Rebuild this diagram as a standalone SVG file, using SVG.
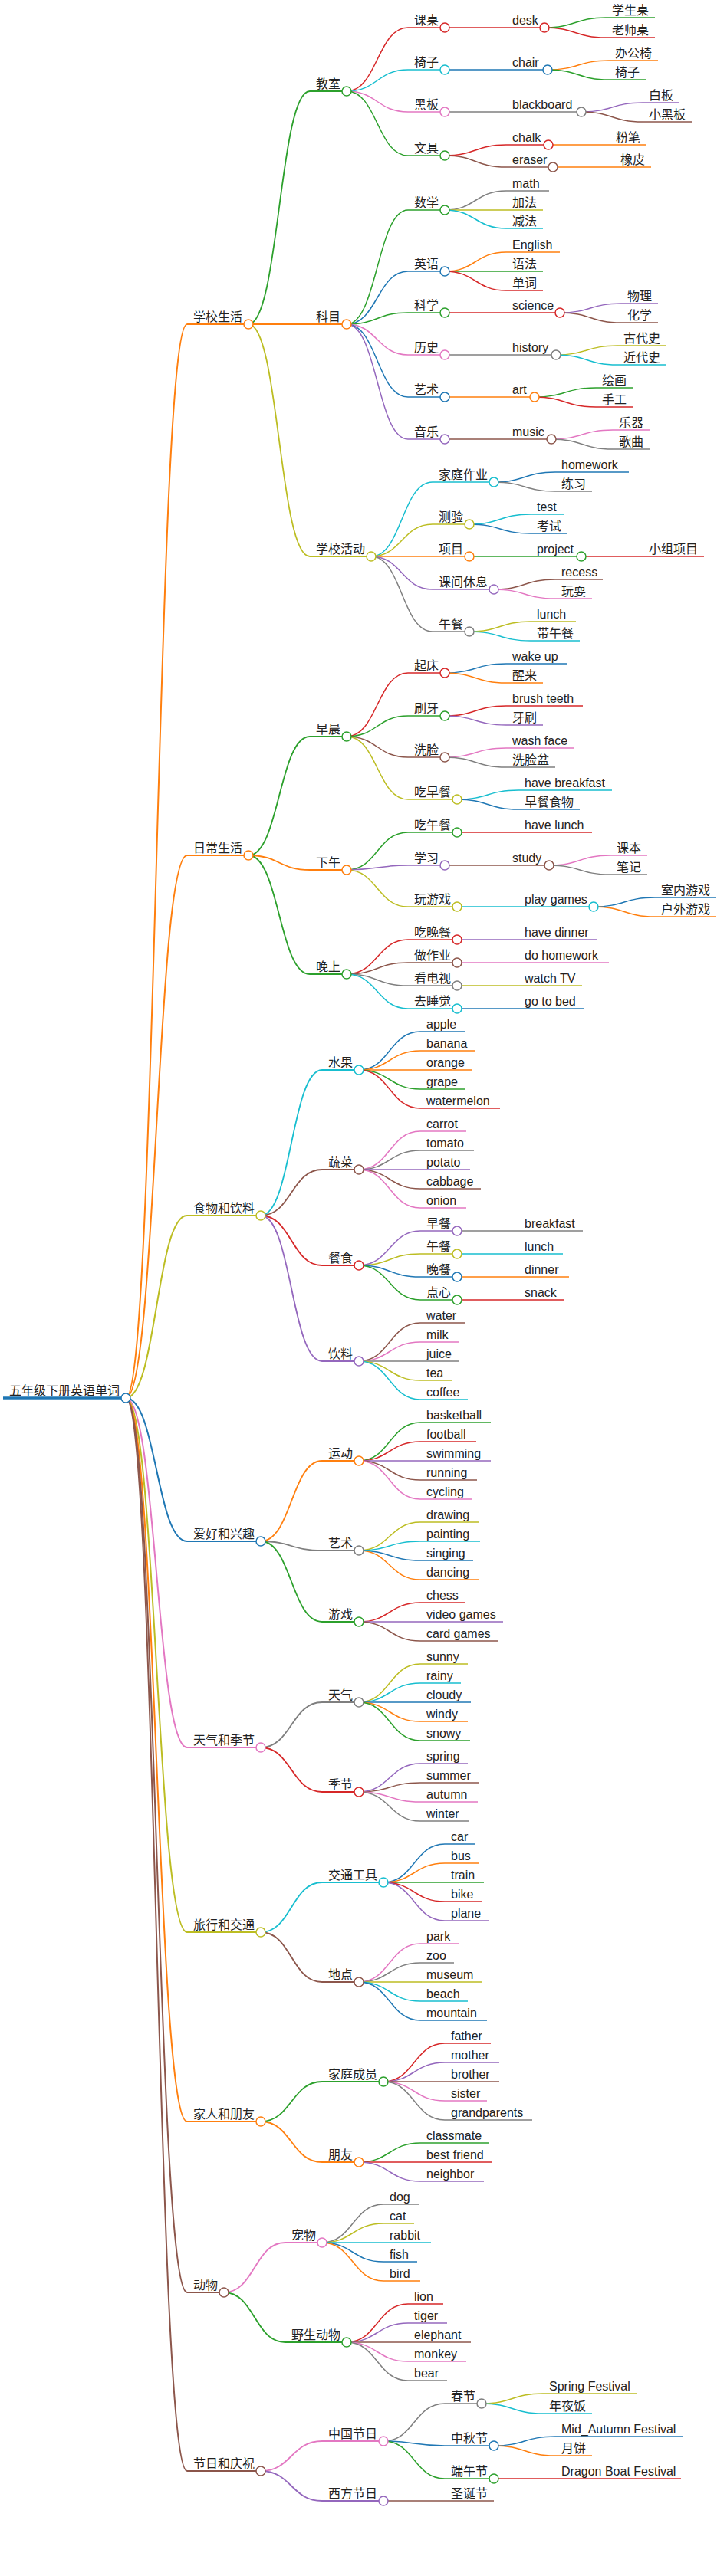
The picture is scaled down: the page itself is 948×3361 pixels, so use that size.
<svg xmlns="http://www.w3.org/2000/svg" width="948" height="3361" viewBox="0 0 948 3361">
<style>
.B{stroke:#1f77b4}.O{stroke:#ff7f0e}.G{stroke:#2ca02c}.R{stroke:#d62728}.P{stroke:#9467bd}.N{stroke:#8c564b}.K{stroke:#e377c2}.Y{stroke:#7f7f7f}.L{stroke:#bcbd22}.C{stroke:#17becf}
.d0{stroke-width:3.5}.d1{stroke-width:2}.d2{stroke-width:1.8}.d3{stroke-width:1.5}.d4{stroke-width:1.5}.d5{stroke-width:1.5}
path{fill:none}
circle{fill:#fff;stroke-width:1.5}
text{stroke:none;fill:#222;font-family:"Liberation Sans","Noto Sans CJK SC",sans-serif;font-size:16px}
</style>
<rect width="948" height="3361" fill="#fff"/>
<g id="connectors">
<path class="O d1" d="M164,1824 C204,1824 204,423 244,423"/>
<path class="O d1" d="M164,1824 C204,1824 204,1116 244,1116"/>
<path class="L d1" d="M164,1824 C204,1824 204,1586 244,1586"/>
<path class="B d1" d="M164,1824 C204,1824 204,2011 244,2011"/>
<path class="K d1" d="M164,1824 C204,1824 204,2280 244,2280"/>
<path class="L d1" d="M164,1824 C204,1824 204,2521 244,2521"/>
<path class="O d1" d="M164,1824 C204,1824 204,2768 244,2768"/>
<path class="N d1" d="M164,1824 C204,1824 204,2991 244,2991"/>
<path class="N d1" d="M164,1824 C204,1824 204,3224 244,3224"/>
<path class="G d2" d="M324,423 C364,423 364,119 404,119"/>
<path class="O d2" d="M324,423 L404,423"/>
<path class="L d2" d="M324,423 C364,423 364,726 404,726"/>
<path class="G d2" d="M324,1116 C364,1116 364,961 404,961"/>
<path class="O d2" d="M324,1116 C364,1116 364,1135 404,1135"/>
<path class="G d2" d="M324,1116 C364,1116 364,1271 404,1271"/>
<path class="C d2" d="M340,1586 C380,1586 380,1396 420,1396"/>
<path class="N d2" d="M340,1586 C380,1586 380,1526 420,1526"/>
<path class="R d2" d="M340,1586 C380,1586 380,1651 420,1651"/>
<path class="P d2" d="M340,1586 C380,1586 380,1776 420,1776"/>
<path class="O d2" d="M340,2011 C380,2011 380,1906 420,1906"/>
<path class="Y d2" d="M340,2011 C380,2011 380,2023 420,2023"/>
<path class="G d2" d="M340,2011 C380,2011 380,2116 420,2116"/>
<path class="Y d2" d="M340,2280 C380,2280 380,2221 420,2221"/>
<path class="R d2" d="M340,2280 C380,2280 380,2338 420,2338"/>
<path class="C d2" d="M340,2521 C380,2521 380,2456 420,2456"/>
<path class="N d2" d="M340,2521 C380,2521 380,2586 420,2586"/>
<path class="G d2" d="M340,2768 C380,2768 380,2716 420,2716"/>
<path class="O d2" d="M340,2768 C380,2768 380,2821 420,2821"/>
<path class="K d2" d="M292,2991 C332,2991 332,2926 372,2926"/>
<path class="G d2" d="M292,2991 C332,2991 332,3056 372,3056"/>
<path class="K d2" d="M340,3224 C380,3224 380,3185 420,3185"/>
<path class="P d2" d="M340,3224 C380,3224 380,3263 420,3263"/>
<path class="R d3" d="M452,119 C492,119 492,36 532,36"/>
<path class="C d3" d="M452,119 C492,119 492,91 532,91"/>
<path class="K d3" d="M452,119 C492,119 492,146 532,146"/>
<path class="G d3" d="M452,119 C492,119 492,203 532,203"/>
<path class="G d3" d="M452,423 C492,423 492,274 532,274"/>
<path class="B d3" d="M452,423 C492,423 492,354 532,354"/>
<path class="G d3" d="M452,423 C492,423 492,408 532,408"/>
<path class="K d3" d="M452,423 C492,423 492,463 532,463"/>
<path class="B d3" d="M452,423 C492,423 492,518 532,518"/>
<path class="P d3" d="M452,423 C492,423 492,573 532,573"/>
<path class="C d3" d="M484,726 C524,726 524,629 564,629"/>
<path class="L d3" d="M484,726 C524,726 524,684 564,684"/>
<path class="O d3" d="M484,726 L564,726"/>
<path class="P d3" d="M484,726 C524,726 524,769 564,769"/>
<path class="Y d3" d="M484,726 C524,726 524,824 564,824"/>
<path class="R d3" d="M452,961 C492,961 492,878 532,878"/>
<path class="G d3" d="M452,961 C492,961 492,934 532,934"/>
<path class="N d3" d="M452,961 C492,961 492,988 532,988"/>
<path class="L d3" d="M452,961 C492,961 492,1043 532,1043"/>
<path class="G d3" d="M452,1135 C492,1135 492,1086 532,1086"/>
<path class="P d3" d="M452,1135 C492,1135 492,1129 532,1129"/>
<path class="L d3" d="M452,1135 C492,1135 492,1183 532,1183"/>
<path class="R d3" d="M452,1271 C492,1271 492,1226 532,1226"/>
<path class="N d3" d="M452,1271 C492,1271 492,1256 532,1256"/>
<path class="Y d3" d="M452,1271 C492,1271 492,1286 532,1286"/>
<path class="C d3" d="M452,1271 C492,1271 492,1316 532,1316"/>
<path class="B d3" d="M468,1396 C508,1396 508,1346 548,1346"/>
<path class="O d3" d="M468,1396 C508,1396 508,1371 548,1371"/>
<path class="O d3" d="M468,1396 L548,1396"/>
<path class="G d3" d="M468,1396 C508,1396 508,1421 548,1421"/>
<path class="R d3" d="M468,1396 C508,1396 508,1446 548,1446"/>
<path class="K d3" d="M468,1526 C508,1526 508,1476 548,1476"/>
<path class="Y d3" d="M468,1526 C508,1526 508,1501 548,1501"/>
<path class="P d3" d="M468,1526 L548,1526"/>
<path class="N d3" d="M468,1526 C508,1526 508,1551 548,1551"/>
<path class="K d3" d="M468,1526 C508,1526 508,1576 548,1576"/>
<path class="P d3" d="M468,1651 C508,1651 508,1606 548,1606"/>
<path class="L d3" d="M468,1651 C508,1651 508,1636 548,1636"/>
<path class="B d3" d="M468,1651 C508,1651 508,1666 548,1666"/>
<path class="G d3" d="M468,1651 C508,1651 508,1696 548,1696"/>
<path class="N d3" d="M468,1776 C508,1776 508,1726 548,1726"/>
<path class="K d3" d="M468,1776 C508,1776 508,1751 548,1751"/>
<path class="Y d3" d="M468,1776 L548,1776"/>
<path class="L d3" d="M468,1776 C508,1776 508,1801 548,1801"/>
<path class="C d3" d="M468,1776 C508,1776 508,1826 548,1826"/>
<path class="G d3" d="M468,1906 C508,1906 508,1856 548,1856"/>
<path class="R d3" d="M468,1906 C508,1906 508,1881 548,1881"/>
<path class="P d3" d="M468,1906 L548,1906"/>
<path class="N d3" d="M468,1906 C508,1906 508,1931 548,1931"/>
<path class="K d3" d="M468,1906 C508,1906 508,1956 548,1956"/>
<path class="L d3" d="M468,2023 C508,2023 508,1986 548,1986"/>
<path class="C d3" d="M468,2023 C508,2023 508,2011 548,2011"/>
<path class="B d3" d="M468,2023 C508,2023 508,2036 548,2036"/>
<path class="O d3" d="M468,2023 C508,2023 508,2061 548,2061"/>
<path class="R d3" d="M468,2116 C508,2116 508,2091 548,2091"/>
<path class="P d3" d="M468,2116 L548,2116"/>
<path class="N d3" d="M468,2116 C508,2116 508,2141 548,2141"/>
<path class="L d3" d="M468,2221 C508,2221 508,2171 548,2171"/>
<path class="C d3" d="M468,2221 C508,2221 508,2196 548,2196"/>
<path class="B d3" d="M468,2221 L548,2221"/>
<path class="O d3" d="M468,2221 C508,2221 508,2246 548,2246"/>
<path class="G d3" d="M468,2221 C508,2221 508,2271 548,2271"/>
<path class="P d3" d="M468,2338 C508,2338 508,2301 548,2301"/>
<path class="N d3" d="M468,2338 C508,2338 508,2326 548,2326"/>
<path class="K d3" d="M468,2338 C508,2338 508,2351 548,2351"/>
<path class="Y d3" d="M468,2338 C508,2338 508,2376 548,2376"/>
<path class="B d3" d="M500,2456 C540,2456 540,2406 580,2406"/>
<path class="O d3" d="M500,2456 C540,2456 540,2431 580,2431"/>
<path class="G d3" d="M500,2456 L580,2456"/>
<path class="R d3" d="M500,2456 C540,2456 540,2481 580,2481"/>
<path class="P d3" d="M500,2456 C540,2456 540,2506 580,2506"/>
<path class="K d3" d="M468,2586 C508,2586 508,2536 548,2536"/>
<path class="Y d3" d="M468,2586 C508,2586 508,2561 548,2561"/>
<path class="L d3" d="M468,2586 L548,2586"/>
<path class="C d3" d="M468,2586 C508,2586 508,2611 548,2611"/>
<path class="B d3" d="M468,2586 C508,2586 508,2636 548,2636"/>
<path class="R d3" d="M500,2716 C540,2716 540,2666 580,2666"/>
<path class="P d3" d="M500,2716 C540,2716 540,2691 580,2691"/>
<path class="N d3" d="M500,2716 L580,2716"/>
<path class="K d3" d="M500,2716 C540,2716 540,2741 580,2741"/>
<path class="Y d3" d="M500,2716 C540,2716 540,2766 580,2766"/>
<path class="G d3" d="M468,2821 C508,2821 508,2796 548,2796"/>
<path class="R d3" d="M468,2821 L548,2821"/>
<path class="P d3" d="M468,2821 C508,2821 508,2846 548,2846"/>
<path class="Y d3" d="M420,2926 C460,2926 460,2876 500,2876"/>
<path class="L d3" d="M420,2926 C460,2926 460,2901 500,2901"/>
<path class="C d3" d="M420,2926 L500,2926"/>
<path class="B d3" d="M420,2926 C460,2926 460,2951 500,2951"/>
<path class="O d3" d="M420,2926 C460,2926 460,2976 500,2976"/>
<path class="R d3" d="M452,3056 C492,3056 492,3006 532,3006"/>
<path class="P d3" d="M452,3056 C492,3056 492,3031 532,3031"/>
<path class="N d3" d="M452,3056 L532,3056"/>
<path class="K d3" d="M452,3056 C492,3056 492,3081 532,3081"/>
<path class="Y d3" d="M452,3056 C492,3056 492,3106 532,3106"/>
<path class="Y d3" d="M500,3185 C540,3185 540,3136 580,3136"/>
<path class="B d3" d="M500,3185 C540,3185 540,3191 580,3191"/>
<path class="G d3" d="M500,3185 C540,3185 540,3234 580,3234"/>
<path class="N d3" d="M500,3263 L580,3263"/>
<path class="R d4" d="M580,36 L660,36"/>
<path class="B d4" d="M580,91 L660,91"/>
<path class="Y d4" d="M580,146 L660,146"/>
<path class="R d4" d="M580,203 C620,203 620,189 660,189"/>
<path class="N d4" d="M580,203 C620,203 620,218 660,218"/>
<path class="Y d4" d="M580,274 C620,274 620,249 660,249"/>
<path class="L d4" d="M580,274 L660,274"/>
<path class="C d4" d="M580,274 C620,274 620,298 660,298"/>
<path class="O d4" d="M580,354 C620,354 620,329 660,329"/>
<path class="G d4" d="M580,354 L660,354"/>
<path class="R d4" d="M580,354 C620,354 620,379 660,379"/>
<path class="R d4" d="M580,408 L660,408"/>
<path class="Y d4" d="M580,463 L660,463"/>
<path class="O d4" d="M580,518 L660,518"/>
<path class="N d4" d="M580,573 L660,573"/>
<path class="B d4" d="M644,629 C684,629 684,616 724,616"/>
<path class="Y d4" d="M644,629 C684,629 684,641 724,641"/>
<path class="C d4" d="M612,684 C652,684 652,671 692,671"/>
<path class="B d4" d="M612,684 C652,684 652,696 692,696"/>
<path class="G d4" d="M612,726 L692,726"/>
<path class="N d4" d="M644,769 C684,769 684,756 724,756"/>
<path class="K d4" d="M644,769 C684,769 684,781 724,781"/>
<path class="L d4" d="M612,824 C652,824 652,811 692,811"/>
<path class="C d4" d="M612,824 C652,824 652,836 692,836"/>
<path class="B d4" d="M580,878 C620,878 620,866 660,866"/>
<path class="O d4" d="M580,878 C620,878 620,891 660,891"/>
<path class="R d4" d="M580,934 C620,934 620,921 660,921"/>
<path class="P d4" d="M580,934 C620,934 620,946 660,946"/>
<path class="K d4" d="M580,988 C620,988 620,976 660,976"/>
<path class="Y d4" d="M580,988 C620,988 620,1001 660,1001"/>
<path class="C d4" d="M596,1043 C636,1043 636,1031 676,1031"/>
<path class="B d4" d="M596,1043 C636,1043 636,1056 676,1056"/>
<path class="R d4" d="M596,1086 L676,1086"/>
<path class="N d4" d="M580,1129 L660,1129"/>
<path class="C d4" d="M596,1183 L676,1183"/>
<path class="P d4" d="M596,1226 L676,1226"/>
<path class="K d4" d="M596,1256 L676,1256"/>
<path class="L d4" d="M596,1286 L676,1286"/>
<path class="B d4" d="M596,1316 L676,1316"/>
<path class="Y d4" d="M596,1606 L676,1606"/>
<path class="C d4" d="M596,1636 L676,1636"/>
<path class="O d4" d="M596,1666 L676,1666"/>
<path class="R d4" d="M596,1696 L676,1696"/>
<path class="L d4" d="M628,3136 C668,3136 668,3123 708,3123"/>
<path class="C d4" d="M628,3136 C668,3136 668,3149 708,3149"/>
<path class="B d4" d="M644,3191 C684,3191 684,3179 724,3179"/>
<path class="O d4" d="M644,3191 C684,3191 684,3204 724,3204"/>
<path class="R d4" d="M644,3234 L724,3234"/>
<path class="G d5" d="M710,36 C750,36 750,23 790,23"/>
<path class="R d5" d="M710,36 C750,36 750,49 790,49"/>
<path class="O d5" d="M714,91 C754,91 754,79 794,79"/>
<path class="G d5" d="M714,91 C754,91 754,104 794,104"/>
<path class="P d5" d="M758,146 C798,146 798,134 838,134"/>
<path class="N d5" d="M758,146 C798,146 798,159 838,159"/>
<path class="O d5" d="M715,189 L795,189"/>
<path class="O d5" d="M721,218 L801,218"/>
<path class="P d5" d="M730,408 C770,408 770,396 810,396"/>
<path class="N d5" d="M730,408 C770,408 770,421 810,421"/>
<path class="L d5" d="M725,463 C765,463 765,451 805,451"/>
<path class="C d5" d="M725,463 C765,463 765,476 805,476"/>
<path class="G d5" d="M697,518 C737,518 737,506 777,506"/>
<path class="R d5" d="M697,518 C737,518 737,531 777,531"/>
<path class="K d5" d="M719,573 C759,573 759,561 799,561"/>
<path class="Y d5" d="M719,573 C759,573 759,586 799,586"/>
<path class="R d5" d="M758,726 L838,726"/>
<path class="K d5" d="M716,1129 C756,1129 756,1116 796,1116"/>
<path class="Y d5" d="M716,1129 C756,1129 756,1141 796,1141"/>
<path class="B d5" d="M774,1183 C814,1183 814,1171 854,1171"/>
<path class="O d5" d="M774,1183 C814,1183 814,1196 854,1196"/>
</g>
<g id="n0" class="B d0"><line x1="4" y1="1824" x2="164" y2="1824"/><circle cx="164" cy="1824" r="6"/><text x="12" y="1820">五年级下册英语单词</text></g>
<g id="n1" class="O d1"><line x1="244" y1="423" x2="324" y2="423"/><circle cx="324" cy="423" r="6"/><text x="252" y="419">学校生活</text></g>
<g id="n2" class="O d1"><line x1="244" y1="1116" x2="324" y2="1116"/><circle cx="324" cy="1116" r="6"/><text x="252" y="1112">日常生活</text></g>
<g id="n3" class="L d1"><line x1="244" y1="1586" x2="340" y2="1586"/><circle cx="340" cy="1586" r="6"/><text x="252" y="1582">食物和饮料</text></g>
<g id="n4" class="B d1"><line x1="244" y1="2011" x2="340" y2="2011"/><circle cx="340" cy="2011" r="6"/><text x="252" y="2007">爱好和兴趣</text></g>
<g id="n5" class="K d1"><line x1="244" y1="2280" x2="340" y2="2280"/><circle cx="340" cy="2280" r="6"/><text x="252" y="2276">天气和季节</text></g>
<g id="n6" class="L d1"><line x1="244" y1="2521" x2="340" y2="2521"/><circle cx="340" cy="2521" r="6"/><text x="252" y="2517">旅行和交通</text></g>
<g id="n7" class="O d1"><line x1="244" y1="2768" x2="340" y2="2768"/><circle cx="340" cy="2768" r="6"/><text x="252" y="2764">家人和朋友</text></g>
<g id="n8" class="N d1"><line x1="244" y1="2991" x2="292" y2="2991"/><circle cx="292" cy="2991" r="6"/><text x="252" y="2987">动物</text></g>
<g id="n9" class="N d1"><line x1="244" y1="3224" x2="340" y2="3224"/><circle cx="340" cy="3224" r="6"/><text x="252" y="3220">节日和庆祝</text></g>
<g id="n1-1" class="G d2"><line x1="404" y1="119" x2="452" y2="119"/><circle cx="452" cy="119" r="6"/><text x="412" y="115">教室</text></g>
<g id="n1-2" class="O d2"><line x1="404" y1="423" x2="452" y2="423"/><circle cx="452" cy="423" r="6"/><text x="412" y="419">科目</text></g>
<g id="n1-3" class="L d2"><line x1="404" y1="726" x2="484" y2="726"/><circle cx="484" cy="726" r="6"/><text x="412" y="722">学校活动</text></g>
<g id="n2-1" class="G d2"><line x1="404" y1="961" x2="452" y2="961"/><circle cx="452" cy="961" r="6"/><text x="412" y="957">早晨</text></g>
<g id="n2-2" class="O d2"><line x1="404" y1="1135" x2="452" y2="1135"/><circle cx="452" cy="1135" r="6"/><text x="412" y="1131">下午</text></g>
<g id="n2-3" class="G d2"><line x1="404" y1="1271" x2="452" y2="1271"/><circle cx="452" cy="1271" r="6"/><text x="412" y="1267">晚上</text></g>
<g id="n3-1" class="C d2"><line x1="420" y1="1396" x2="468" y2="1396"/><circle cx="468" cy="1396" r="6"/><text x="428" y="1392">水果</text></g>
<g id="n3-2" class="N d2"><line x1="420" y1="1526" x2="468" y2="1526"/><circle cx="468" cy="1526" r="6"/><text x="428" y="1522">蔬菜</text></g>
<g id="n3-3" class="R d2"><line x1="420" y1="1651" x2="468" y2="1651"/><circle cx="468" cy="1651" r="6"/><text x="428" y="1647">餐食</text></g>
<g id="n3-4" class="P d2"><line x1="420" y1="1776" x2="468" y2="1776"/><circle cx="468" cy="1776" r="6"/><text x="428" y="1772">饮料</text></g>
<g id="n4-1" class="O d2"><line x1="420" y1="1906" x2="468" y2="1906"/><circle cx="468" cy="1906" r="6"/><text x="428" y="1902">运动</text></g>
<g id="n4-2" class="Y d2"><line x1="420" y1="2023" x2="468" y2="2023"/><circle cx="468" cy="2023" r="6"/><text x="428" y="2019">艺术</text></g>
<g id="n4-3" class="G d2"><line x1="420" y1="2116" x2="468" y2="2116"/><circle cx="468" cy="2116" r="6"/><text x="428" y="2112">游戏</text></g>
<g id="n5-1" class="Y d2"><line x1="420" y1="2221" x2="468" y2="2221"/><circle cx="468" cy="2221" r="6"/><text x="428" y="2217">天气</text></g>
<g id="n5-2" class="R d2"><line x1="420" y1="2338" x2="468" y2="2338"/><circle cx="468" cy="2338" r="6"/><text x="428" y="2334">季节</text></g>
<g id="n6-1" class="C d2"><line x1="420" y1="2456" x2="500" y2="2456"/><circle cx="500" cy="2456" r="6"/><text x="428" y="2452">交通工具</text></g>
<g id="n6-2" class="N d2"><line x1="420" y1="2586" x2="468" y2="2586"/><circle cx="468" cy="2586" r="6"/><text x="428" y="2582">地点</text></g>
<g id="n7-1" class="G d2"><line x1="420" y1="2716" x2="500" y2="2716"/><circle cx="500" cy="2716" r="6"/><text x="428" y="2712">家庭成员</text></g>
<g id="n7-2" class="O d2"><line x1="420" y1="2821" x2="468" y2="2821"/><circle cx="468" cy="2821" r="6"/><text x="428" y="2817">朋友</text></g>
<g id="n8-1" class="K d2"><line x1="372" y1="2926" x2="420" y2="2926"/><circle cx="420" cy="2926" r="6"/><text x="380" y="2922">宠物</text></g>
<g id="n8-2" class="G d2"><line x1="372" y1="3056" x2="452" y2="3056"/><circle cx="452" cy="3056" r="6"/><text x="380" y="3052">野生动物</text></g>
<g id="n9-1" class="K d2"><line x1="420" y1="3185" x2="500" y2="3185"/><circle cx="500" cy="3185" r="6"/><text x="428" y="3181">中国节日</text></g>
<g id="n9-2" class="P d2"><line x1="420" y1="3263" x2="500" y2="3263"/><circle cx="500" cy="3263" r="6"/><text x="428" y="3259">西方节日</text></g>
<g id="n1-1-1" class="R d3"><line x1="532" y1="36" x2="580" y2="36"/><circle cx="580" cy="36" r="6"/><text x="540" y="32">课桌</text></g>
<g id="n1-1-2" class="C d3"><line x1="532" y1="91" x2="580" y2="91"/><circle cx="580" cy="91" r="6"/><text x="540" y="87">椅子</text></g>
<g id="n1-1-3" class="K d3"><line x1="532" y1="146" x2="580" y2="146"/><circle cx="580" cy="146" r="6"/><text x="540" y="142">黑板</text></g>
<g id="n1-1-4" class="G d3"><line x1="532" y1="203" x2="580" y2="203"/><circle cx="580" cy="203" r="6"/><text x="540" y="199">文具</text></g>
<g id="n1-2-1" class="G d3"><line x1="532" y1="274" x2="580" y2="274"/><circle cx="580" cy="274" r="6"/><text x="540" y="270">数学</text></g>
<g id="n1-2-2" class="B d3"><line x1="532" y1="354" x2="580" y2="354"/><circle cx="580" cy="354" r="6"/><text x="540" y="350">英语</text></g>
<g id="n1-2-3" class="G d3"><line x1="532" y1="408" x2="580" y2="408"/><circle cx="580" cy="408" r="6"/><text x="540" y="404">科学</text></g>
<g id="n1-2-4" class="K d3"><line x1="532" y1="463" x2="580" y2="463"/><circle cx="580" cy="463" r="6"/><text x="540" y="459">历史</text></g>
<g id="n1-2-5" class="B d3"><line x1="532" y1="518" x2="580" y2="518"/><circle cx="580" cy="518" r="6"/><text x="540" y="514">艺术</text></g>
<g id="n1-2-6" class="P d3"><line x1="532" y1="573" x2="580" y2="573"/><circle cx="580" cy="573" r="6"/><text x="540" y="569">音乐</text></g>
<g id="n1-3-1" class="C d3"><line x1="564" y1="629" x2="644" y2="629"/><circle cx="644" cy="629" r="6"/><text x="572" y="625">家庭作业</text></g>
<g id="n1-3-2" class="L d3"><line x1="564" y1="684" x2="612" y2="684"/><circle cx="612" cy="684" r="6"/><text x="572" y="680">测验</text></g>
<g id="n1-3-3" class="O d3"><line x1="564" y1="726" x2="612" y2="726"/><circle cx="612" cy="726" r="6"/><text x="572" y="722">项目</text></g>
<g id="n1-3-4" class="P d3"><line x1="564" y1="769" x2="644" y2="769"/><circle cx="644" cy="769" r="6"/><text x="572" y="765">课间休息</text></g>
<g id="n1-3-5" class="Y d3"><line x1="564" y1="824" x2="612" y2="824"/><circle cx="612" cy="824" r="6"/><text x="572" y="820">午餐</text></g>
<g id="n2-1-1" class="R d3"><line x1="532" y1="878" x2="580" y2="878"/><circle cx="580" cy="878" r="6"/><text x="540" y="874">起床</text></g>
<g id="n2-1-2" class="G d3"><line x1="532" y1="934" x2="580" y2="934"/><circle cx="580" cy="934" r="6"/><text x="540" y="930">刷牙</text></g>
<g id="n2-1-3" class="N d3"><line x1="532" y1="988" x2="580" y2="988"/><circle cx="580" cy="988" r="6"/><text x="540" y="984">洗脸</text></g>
<g id="n2-1-4" class="L d3"><line x1="532" y1="1043" x2="596" y2="1043"/><circle cx="596" cy="1043" r="6"/><text x="540" y="1039">吃早餐</text></g>
<g id="n2-2-1" class="G d3"><line x1="532" y1="1086" x2="596" y2="1086"/><circle cx="596" cy="1086" r="6"/><text x="540" y="1082">吃午餐</text></g>
<g id="n2-2-2" class="P d3"><line x1="532" y1="1129" x2="580" y2="1129"/><circle cx="580" cy="1129" r="6"/><text x="540" y="1125">学习</text></g>
<g id="n2-2-3" class="L d3"><line x1="532" y1="1183" x2="596" y2="1183"/><circle cx="596" cy="1183" r="6"/><text x="540" y="1179">玩游戏</text></g>
<g id="n2-3-1" class="R d3"><line x1="532" y1="1226" x2="596" y2="1226"/><circle cx="596" cy="1226" r="6"/><text x="540" y="1222">吃晚餐</text></g>
<g id="n2-3-2" class="N d3"><line x1="532" y1="1256" x2="596" y2="1256"/><circle cx="596" cy="1256" r="6"/><text x="540" y="1252">做作业</text></g>
<g id="n2-3-3" class="Y d3"><line x1="532" y1="1286" x2="596" y2="1286"/><circle cx="596" cy="1286" r="6"/><text x="540" y="1282">看电视</text></g>
<g id="n2-3-4" class="C d3"><line x1="532" y1="1316" x2="596" y2="1316"/><circle cx="596" cy="1316" r="6"/><text x="540" y="1312">去睡觉</text></g>
<g id="n3-1-1" class="B d3"><line x1="548" y1="1346" x2="607" y2="1346"/><text x="556" y="1342">apple</text></g>
<g id="n3-1-2" class="O d3"><line x1="548" y1="1371" x2="620" y2="1371"/><text x="556" y="1367">banana</text></g>
<g id="n3-1-3" class="O d3"><line x1="548" y1="1396" x2="616" y2="1396"/><text x="556" y="1392">orange</text></g>
<g id="n3-1-4" class="G d3"><line x1="548" y1="1421" x2="607" y2="1421"/><text x="556" y="1417">grape</text></g>
<g id="n3-1-5" class="R d3"><line x1="548" y1="1446" x2="652" y2="1446"/><text x="556" y="1442">watermelon</text></g>
<g id="n3-2-1" class="K d3"><line x1="548" y1="1476" x2="608" y2="1476"/><text x="556" y="1472">carrot</text></g>
<g id="n3-2-2" class="Y d3"><line x1="548" y1="1501" x2="618" y2="1501"/><text x="556" y="1497">tomato</text></g>
<g id="n3-2-3" class="P d3"><line x1="548" y1="1526" x2="613" y2="1526"/><text x="556" y="1522">potato</text></g>
<g id="n3-2-4" class="N d3"><line x1="548" y1="1551" x2="627" y2="1551"/><text x="556" y="1547">cabbage</text></g>
<g id="n3-2-5" class="K d3"><line x1="548" y1="1576" x2="608" y2="1576"/><text x="556" y="1572">onion</text></g>
<g id="n3-3-1" class="P d3"><line x1="548" y1="1606" x2="596" y2="1606"/><circle cx="596" cy="1606" r="6"/><text x="556" y="1602">早餐</text></g>
<g id="n3-3-2" class="L d3"><line x1="548" y1="1636" x2="596" y2="1636"/><circle cx="596" cy="1636" r="6"/><text x="556" y="1632">午餐</text></g>
<g id="n3-3-3" class="B d3"><line x1="548" y1="1666" x2="596" y2="1666"/><circle cx="596" cy="1666" r="6"/><text x="556" y="1662">晚餐</text></g>
<g id="n3-3-4" class="G d3"><line x1="548" y1="1696" x2="596" y2="1696"/><circle cx="596" cy="1696" r="6"/><text x="556" y="1692">点心</text></g>
<g id="n3-4-1" class="N d3"><line x1="548" y1="1726" x2="607" y2="1726"/><text x="556" y="1722">water</text></g>
<g id="n3-4-2" class="K d3"><line x1="548" y1="1751" x2="598" y2="1751"/><text x="556" y="1747">milk</text></g>
<g id="n3-4-3" class="Y d3"><line x1="548" y1="1776" x2="599" y2="1776"/><text x="556" y="1772">juice</text></g>
<g id="n3-4-4" class="L d3"><line x1="548" y1="1801" x2="589" y2="1801"/><text x="556" y="1797">tea</text></g>
<g id="n3-4-5" class="C d3"><line x1="548" y1="1826" x2="610" y2="1826"/><text x="556" y="1822">coffee</text></g>
<g id="n4-1-1" class="G d3"><line x1="548" y1="1856" x2="640" y2="1856"/><text x="556" y="1852">basketball</text></g>
<g id="n4-1-2" class="R d3"><line x1="548" y1="1881" x2="621" y2="1881"/><text x="556" y="1877">football</text></g>
<g id="n4-1-3" class="P d3"><line x1="548" y1="1906" x2="640" y2="1906"/><text x="556" y="1902">swimming</text></g>
<g id="n4-1-4" class="N d3"><line x1="548" y1="1931" x2="622" y2="1931"/><text x="556" y="1927">running</text></g>
<g id="n4-1-5" class="K d3"><line x1="548" y1="1956" x2="616" y2="1956"/><text x="556" y="1952">cycling</text></g>
<g id="n4-2-1" class="L d3"><line x1="548" y1="1986" x2="625" y2="1986"/><text x="556" y="1982">drawing</text></g>
<g id="n4-2-2" class="C d3"><line x1="548" y1="2011" x2="626" y2="2011"/><text x="556" y="2007">painting</text></g>
<g id="n4-2-3" class="B d3"><line x1="548" y1="2036" x2="617" y2="2036"/><text x="556" y="2032">singing</text></g>
<g id="n4-2-4" class="O d3"><line x1="548" y1="2061" x2="625" y2="2061"/><text x="556" y="2057">dancing</text></g>
<g id="n4-3-1" class="R d3"><line x1="548" y1="2091" x2="607" y2="2091"/><text x="556" y="2087">chess</text></g>
<g id="n4-3-2" class="P d3"><line x1="548" y1="2116" x2="656" y2="2116"/><text x="556" y="2112">video games</text></g>
<g id="n4-3-3" class="N d3"><line x1="548" y1="2141" x2="649" y2="2141"/><text x="556" y="2137">card games</text></g>
<g id="n5-1-1" class="L d3"><line x1="548" y1="2171" x2="610" y2="2171"/><text x="556" y="2167">sunny</text></g>
<g id="n5-1-2" class="C d3"><line x1="548" y1="2196" x2="601" y2="2196"/><text x="556" y="2192">rainy</text></g>
<g id="n5-1-3" class="B d3"><line x1="548" y1="2221" x2="614" y2="2221"/><text x="556" y="2217">cloudy</text></g>
<g id="n5-1-4" class="O d3"><line x1="548" y1="2246" x2="610" y2="2246"/><text x="556" y="2242">windy</text></g>
<g id="n5-1-5" class="G d3"><line x1="548" y1="2271" x2="613" y2="2271"/><text x="556" y="2267">snowy</text></g>
<g id="n5-2-1" class="P d3"><line x1="548" y1="2301" x2="610" y2="2301"/><text x="556" y="2297">spring</text></g>
<g id="n5-2-2" class="N d3"><line x1="548" y1="2326" x2="625" y2="2326"/><text x="556" y="2322">summer</text></g>
<g id="n5-2-3" class="K d3"><line x1="548" y1="2351" x2="623" y2="2351"/><text x="556" y="2347">autumn</text></g>
<g id="n5-2-4" class="Y d3"><line x1="548" y1="2376" x2="611" y2="2376"/><text x="556" y="2372">winter</text></g>
<g id="n6-1-1" class="B d3"><line x1="580" y1="2406" x2="620" y2="2406"/><text x="588" y="2402">car</text></g>
<g id="n6-1-2" class="O d3"><line x1="580" y1="2431" x2="625" y2="2431"/><text x="588" y="2427">bus</text></g>
<g id="n6-1-3" class="G d3"><line x1="580" y1="2456" x2="631" y2="2456"/><text x="588" y="2452">train</text></g>
<g id="n6-1-4" class="R d3"><line x1="580" y1="2481" x2="628" y2="2481"/><text x="588" y="2477">bike</text></g>
<g id="n6-1-5" class="P d3"><line x1="580" y1="2506" x2="638" y2="2506"/><text x="588" y="2502">plane</text></g>
<g id="n6-2-1" class="K d3"><line x1="548" y1="2536" x2="598" y2="2536"/><text x="556" y="2532">park</text></g>
<g id="n6-2-2" class="Y d3"><line x1="548" y1="2561" x2="592" y2="2561"/><text x="556" y="2557">zoo</text></g>
<g id="n6-2-3" class="L d3"><line x1="548" y1="2586" x2="629" y2="2586"/><text x="556" y="2582">museum</text></g>
<g id="n6-2-4" class="C d3"><line x1="548" y1="2611" x2="610" y2="2611"/><text x="556" y="2607">beach</text></g>
<g id="n6-2-5" class="B d3"><line x1="548" y1="2636" x2="635" y2="2636"/><text x="556" y="2632">mountain</text></g>
<g id="n7-1-1" class="R d3"><line x1="580" y1="2666" x2="640" y2="2666"/><text x="588" y="2662">father</text></g>
<g id="n7-1-2" class="P d3"><line x1="580" y1="2691" x2="651" y2="2691"/><text x="588" y="2687">mother</text></g>
<g id="n7-1-3" class="N d3"><line x1="580" y1="2716" x2="651" y2="2716"/><text x="588" y="2712">brother</text></g>
<g id="n7-1-4" class="K d3"><line x1="580" y1="2741" x2="635" y2="2741"/><text x="588" y="2737">sister</text></g>
<g id="n7-1-5" class="Y d3"><line x1="580" y1="2766" x2="694" y2="2766"/><text x="588" y="2762">grandparents</text></g>
<g id="n7-2-1" class="G d3"><line x1="548" y1="2796" x2="638" y2="2796"/><text x="556" y="2792">classmate</text></g>
<g id="n7-2-2" class="R d3"><line x1="548" y1="2821" x2="642" y2="2821"/><text x="556" y="2817">best friend</text></g>
<g id="n7-2-3" class="P d3"><line x1="548" y1="2846" x2="631" y2="2846"/><text x="556" y="2842">neighbor</text></g>
<g id="n8-1-1" class="Y d3"><line x1="500" y1="2876" x2="546" y2="2876"/><text x="508" y="2872">dog</text></g>
<g id="n8-1-2" class="L d3"><line x1="500" y1="2901" x2="540" y2="2901"/><text x="508" y="2897">cat</text></g>
<g id="n8-1-3" class="C d3"><line x1="500" y1="2926" x2="562" y2="2926"/><text x="508" y="2922">rabbit</text></g>
<g id="n8-1-4" class="B d3"><line x1="500" y1="2951" x2="544" y2="2951"/><text x="508" y="2947">fish</text></g>
<g id="n8-1-5" class="O d3"><line x1="500" y1="2976" x2="548" y2="2976"/><text x="508" y="2972">bird</text></g>
<g id="n8-2-1" class="R d3"><line x1="532" y1="3006" x2="578" y2="3006"/><text x="540" y="3002">lion</text></g>
<g id="n8-2-2" class="P d3"><line x1="532" y1="3031" x2="583" y2="3031"/><text x="540" y="3027">tiger</text></g>
<g id="n8-2-3" class="N d3"><line x1="532" y1="3056" x2="614" y2="3056"/><text x="540" y="3052">elephant</text></g>
<g id="n8-2-4" class="K d3"><line x1="532" y1="3081" x2="608" y2="3081"/><text x="540" y="3077">monkey</text></g>
<g id="n8-2-5" class="Y d3"><line x1="532" y1="3106" x2="583" y2="3106"/><text x="540" y="3102">bear</text></g>
<g id="n9-1-1" class="Y d3"><line x1="580" y1="3136" x2="628" y2="3136"/><circle cx="628" cy="3136" r="6"/><text x="588" y="3132">春节</text></g>
<g id="n9-1-2" class="B d3"><line x1="580" y1="3191" x2="644" y2="3191"/><circle cx="644" cy="3191" r="6"/><text x="588" y="3187">中秋节</text></g>
<g id="n9-1-3" class="G d3"><line x1="580" y1="3234" x2="644" y2="3234"/><circle cx="644" cy="3234" r="6"/><text x="588" y="3230">端午节</text></g>
<g id="n9-2-1" class="N d3"><line x1="580" y1="3263" x2="644" y2="3263"/><text x="588" y="3259">圣诞节</text></g>
<g id="n1-1-1-1" class="R d4"><line x1="660" y1="36" x2="710" y2="36"/><circle cx="710" cy="36" r="6"/><text x="668" y="32">desk</text></g>
<g id="n1-1-2-1" class="B d4"><line x1="660" y1="91" x2="714" y2="91"/><circle cx="714" cy="91" r="6"/><text x="668" y="87">chair</text></g>
<g id="n1-1-3-1" class="Y d4"><line x1="660" y1="146" x2="758" y2="146"/><circle cx="758" cy="146" r="6"/><text x="668" y="142">blackboard</text></g>
<g id="n1-1-4-1" class="R d4"><line x1="660" y1="189" x2="715" y2="189"/><circle cx="715" cy="189" r="6"/><text x="668" y="185">chalk</text></g>
<g id="n1-1-4-2" class="N d4"><line x1="660" y1="218" x2="721" y2="218"/><circle cx="721" cy="218" r="6"/><text x="668" y="214">eraser</text></g>
<g id="n1-2-1-1" class="Y d4"><line x1="660" y1="249" x2="716" y2="249"/><text x="668" y="245">math</text></g>
<g id="n1-2-1-2" class="L d4"><line x1="660" y1="274" x2="708" y2="274"/><text x="668" y="270">加法</text></g>
<g id="n1-2-1-3" class="C d4"><line x1="660" y1="298" x2="708" y2="298"/><text x="668" y="294">减法</text></g>
<g id="n1-2-2-1" class="O d4"><line x1="660" y1="329" x2="730" y2="329"/><text x="668" y="325">English</text></g>
<g id="n1-2-2-2" class="G d4"><line x1="660" y1="354" x2="708" y2="354"/><text x="668" y="350">语法</text></g>
<g id="n1-2-2-3" class="R d4"><line x1="660" y1="379" x2="708" y2="379"/><text x="668" y="375">单词</text></g>
<g id="n1-2-3-1" class="R d4"><line x1="660" y1="408" x2="730" y2="408"/><circle cx="730" cy="408" r="6"/><text x="668" y="404">science</text></g>
<g id="n1-2-4-1" class="Y d4"><line x1="660" y1="463" x2="725" y2="463"/><circle cx="725" cy="463" r="6"/><text x="668" y="459">history</text></g>
<g id="n1-2-5-1" class="O d4"><line x1="660" y1="518" x2="697" y2="518"/><circle cx="697" cy="518" r="6"/><text x="668" y="514">art</text></g>
<g id="n1-2-6-1" class="N d4"><line x1="660" y1="573" x2="719" y2="573"/><circle cx="719" cy="573" r="6"/><text x="668" y="569">music</text></g>
<g id="n1-3-1-1" class="B d4"><line x1="724" y1="616" x2="820" y2="616"/><text x="732" y="612">homework</text></g>
<g id="n1-3-1-2" class="Y d4"><line x1="724" y1="641" x2="772" y2="641"/><text x="732" y="637">练习</text></g>
<g id="n1-3-2-1" class="C d4"><line x1="692" y1="671" x2="736" y2="671"/><text x="700" y="667">test</text></g>
<g id="n1-3-2-2" class="B d4"><line x1="692" y1="696" x2="740" y2="696"/><text x="700" y="692">考试</text></g>
<g id="n1-3-3-1" class="G d4"><line x1="692" y1="726" x2="758" y2="726"/><circle cx="758" cy="726" r="6"/><text x="700" y="722">project</text></g>
<g id="n1-3-4-1" class="N d4"><line x1="724" y1="756" x2="786" y2="756"/><text x="732" y="752">recess</text></g>
<g id="n1-3-4-2" class="K d4"><line x1="724" y1="781" x2="772" y2="781"/><text x="732" y="777">玩耍</text></g>
<g id="n1-3-5-1" class="L d4"><line x1="692" y1="811" x2="751" y2="811"/><text x="700" y="807">lunch</text></g>
<g id="n1-3-5-2" class="C d4"><line x1="692" y1="836" x2="756" y2="836"/><text x="700" y="832">带午餐</text></g>
<g id="n2-1-1-1" class="B d4"><line x1="660" y1="866" x2="739" y2="866"/><text x="668" y="862">wake up</text></g>
<g id="n2-1-1-2" class="O d4"><line x1="660" y1="891" x2="708" y2="891"/><text x="668" y="887">醒来</text></g>
<g id="n2-1-2-1" class="R d4"><line x1="660" y1="921" x2="760" y2="921"/><text x="668" y="917">brush teeth</text></g>
<g id="n2-1-2-2" class="P d4"><line x1="660" y1="946" x2="708" y2="946"/><text x="668" y="942">牙刷</text></g>
<g id="n2-1-3-1" class="K d4"><line x1="660" y1="976" x2="748" y2="976"/><text x="668" y="972">wash face</text></g>
<g id="n2-1-3-2" class="Y d4"><line x1="660" y1="1001" x2="724" y2="1001"/><text x="668" y="997">洗脸盆</text></g>
<g id="n2-1-4-1" class="C d4"><line x1="676" y1="1031" x2="798" y2="1031"/><text x="684" y="1027">have breakfast</text></g>
<g id="n2-1-4-2" class="B d4"><line x1="676" y1="1056" x2="756" y2="1056"/><text x="684" y="1052">早餐食物</text></g>
<g id="n2-2-1-1" class="R d4"><line x1="676" y1="1086" x2="772" y2="1086"/><text x="684" y="1082">have lunch</text></g>
<g id="n2-2-2-1" class="N d4"><line x1="660" y1="1129" x2="716" y2="1129"/><circle cx="716" cy="1129" r="6"/><text x="668" y="1125">study</text></g>
<g id="n2-2-3-1" class="C d4"><line x1="676" y1="1183" x2="774" y2="1183"/><circle cx="774" cy="1183" r="6"/><text x="684" y="1179">play games</text></g>
<g id="n2-3-1-1" class="P d4"><line x1="676" y1="1226" x2="779" y2="1226"/><text x="684" y="1222">have dinner</text></g>
<g id="n2-3-2-1" class="K d4"><line x1="676" y1="1256" x2="794" y2="1256"/><text x="684" y="1252">do homework</text></g>
<g id="n2-3-3-1" class="L d4"><line x1="676" y1="1286" x2="759" y2="1286"/><text x="684" y="1282">watch TV</text></g>
<g id="n2-3-4-1" class="B d4"><line x1="676" y1="1316" x2="762" y2="1316"/><text x="684" y="1312">go to bed</text></g>
<g id="n3-3-1-1" class="Y d4"><line x1="676" y1="1606" x2="760" y2="1606"/><text x="684" y="1602">breakfast</text></g>
<g id="n3-3-2-1" class="C d4"><line x1="676" y1="1636" x2="734" y2="1636"/><text x="684" y="1632">lunch</text></g>
<g id="n3-3-3-1" class="O d4"><line x1="676" y1="1666" x2="742" y2="1666"/><text x="684" y="1662">dinner</text></g>
<g id="n3-3-4-1" class="R d4"><line x1="676" y1="1696" x2="736" y2="1696"/><text x="684" y="1692">snack</text></g>
<g id="n9-1-1-1" class="L d4"><line x1="708" y1="3123" x2="830" y2="3123"/><text x="716" y="3119">Spring Festival</text></g>
<g id="n9-1-1-2" class="C d4"><line x1="708" y1="3149" x2="772" y2="3149"/><text x="716" y="3145">年夜饭</text></g>
<g id="n9-1-2-1" class="B d4"><line x1="724" y1="3179" x2="891" y2="3179"/><text x="732" y="3175">Mid_Autumn Festival</text></g>
<g id="n9-1-2-2" class="O d4"><line x1="724" y1="3204" x2="772" y2="3204"/><text x="732" y="3200">月饼</text></g>
<g id="n9-1-3-1" class="R d4"><line x1="724" y1="3234" x2="888" y2="3234"/><text x="732" y="3230">Dragon Boat Festival</text></g>
<g id="n1-1-1-1-1" class="G d5"><line x1="790" y1="23" x2="854" y2="23"/><text x="798" y="19">学生桌</text></g>
<g id="n1-1-1-1-2" class="R d5"><line x1="790" y1="49" x2="854" y2="49"/><text x="798" y="45">老师桌</text></g>
<g id="n1-1-2-1-1" class="O d5"><line x1="794" y1="79" x2="858" y2="79"/><text x="802" y="75">办公椅</text></g>
<g id="n1-1-2-1-2" class="G d5"><line x1="794" y1="104" x2="842" y2="104"/><text x="802" y="100">椅子</text></g>
<g id="n1-1-3-1-1" class="P d5"><line x1="838" y1="134" x2="886" y2="134"/><text x="846" y="130">白板</text></g>
<g id="n1-1-3-1-2" class="N d5"><line x1="838" y1="159" x2="902" y2="159"/><text x="846" y="155">小黑板</text></g>
<g id="n1-1-4-1-1" class="O d5"><line x1="795" y1="189" x2="843" y2="189"/><text x="803" y="185">粉笔</text></g>
<g id="n1-1-4-2-1" class="O d5"><line x1="801" y1="218" x2="849" y2="218"/><text x="809" y="214">橡皮</text></g>
<g id="n1-2-3-1-1" class="P d5"><line x1="810" y1="396" x2="858" y2="396"/><text x="818" y="392">物理</text></g>
<g id="n1-2-3-1-2" class="N d5"><line x1="810" y1="421" x2="858" y2="421"/><text x="818" y="417">化学</text></g>
<g id="n1-2-4-1-1" class="L d5"><line x1="805" y1="451" x2="869" y2="451"/><text x="813" y="447">古代史</text></g>
<g id="n1-2-4-1-2" class="C d5"><line x1="805" y1="476" x2="869" y2="476"/><text x="813" y="472">近代史</text></g>
<g id="n1-2-5-1-1" class="G d5"><line x1="777" y1="506" x2="825" y2="506"/><text x="785" y="502">绘画</text></g>
<g id="n1-2-5-1-2" class="R d5"><line x1="777" y1="531" x2="825" y2="531"/><text x="785" y="527">手工</text></g>
<g id="n1-2-6-1-1" class="K d5"><line x1="799" y1="561" x2="847" y2="561"/><text x="807" y="557">乐器</text></g>
<g id="n1-2-6-1-2" class="Y d5"><line x1="799" y1="586" x2="847" y2="586"/><text x="807" y="582">歌曲</text></g>
<g id="n1-3-3-1-1" class="R d5"><line x1="838" y1="726" x2="918" y2="726"/><text x="846" y="722">小组项目</text></g>
<g id="n2-2-2-1-1" class="K d5"><line x1="796" y1="1116" x2="844" y2="1116"/><text x="804" y="1112">课本</text></g>
<g id="n2-2-2-1-2" class="Y d5"><line x1="796" y1="1141" x2="844" y2="1141"/><text x="804" y="1137">笔记</text></g>
<g id="n2-2-3-1-1" class="B d5"><line x1="854" y1="1171" x2="934" y2="1171"/><text x="862" y="1167">室内游戏</text></g>
<g id="n2-2-3-1-2" class="O d5"><line x1="854" y1="1196" x2="934" y2="1196"/><text x="862" y="1192">户外游戏</text></g>
</svg>
